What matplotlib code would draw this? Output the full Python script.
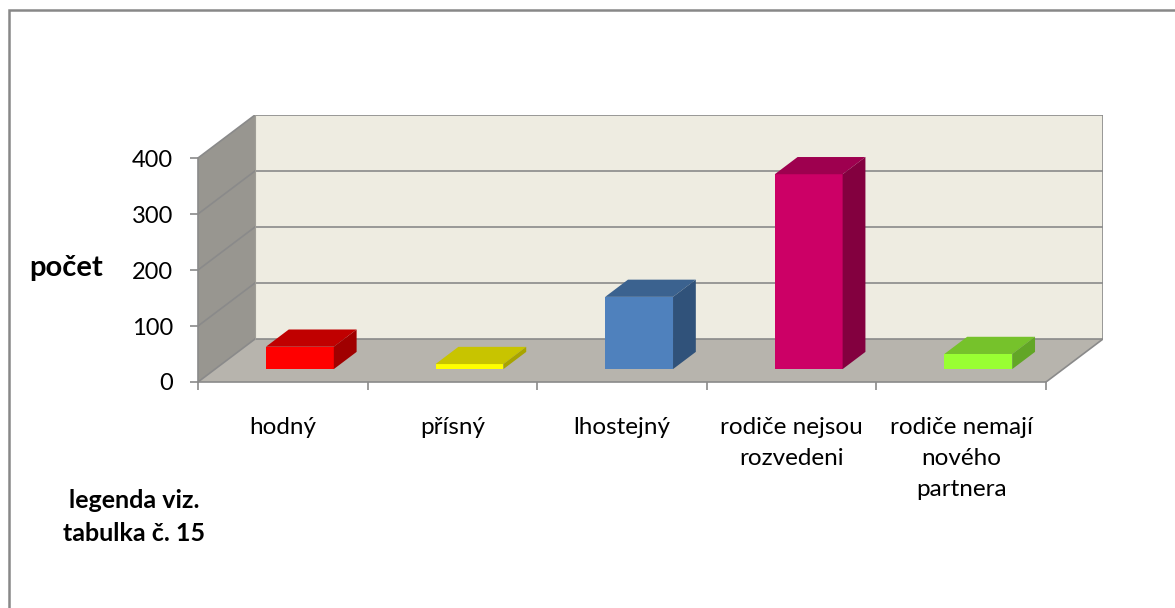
import numpy as np
import matplotlib
matplotlib.use("Agg")
import matplotlib.pyplot as plt
from matplotlib.patches import Polygon, Rectangle

plt.rcParams['font.family'] = ['Lato', 'DejaVu Sans']

# data
categories = ['hodný', 'přísný', 'lhostejný', 'rodiče nejsou\nrozvedeni',
              'rodiče nemají\nnového\npartnera']
values = [40, 9, 129, 348, 27]
yticks = [0, 100, 200, 300, 400]
front_colors = ['#FF0000', '#FFFF00', '#4F81BD', '#CC0066', '#99FF33']
top_colors = ['#C00000', '#C8C400', '#3B628F', '#9E004F', '#76C22B']
side_colors = ['#A00000', '#A8A400', '#30527A', '#83003F', '#62A626']

# fake 3d depth (in data units)
dx = 0.336
dy = 76.8
z0, z1 = 0.3, 0.7
bw = 0.4
ymax = 400
line_col = '#8A8A8A'

W, H = 1175, 608
fig = plt.figure(figsize=(W / 100, H / 100), dpi=100)
ax = fig.add_axes([198 / W, (H - 382) / H, 905 / W, 267 / H])
ax.set_xlim(-0.5, 4.5 + dx)
ax.set_ylim(0, ymax + dy)
n = len(values)
x = np.arange(n)

# walls and floor
x0, x1 = -0.5, n - 0.5
ax.add_patch(Polygon([(x0 + dx, dy), (x1 + dx, dy), (x1 + dx, ymax + dy), (x0 + dx, ymax + dy)],
                     closed=True, fc='#EEECE1', ec='none', zorder=0))
ax.add_patch(Polygon([(x0, 0), (x0 + dx, dy), (x0 + dx, ymax + dy), (x0, ymax)],
                     closed=True, fc='#989690', ec='none', zorder=0))
ax.add_patch(Polygon([(x0, 0), (x1, 0), (x1 + dx, dy), (x0 + dx, dy)],
                     closed=True, fc='#B7B4AD', ec='none', zorder=0))

# gridlines on back and side wall
for v in yticks:
    ax.plot([x0 + dx, x1 + dx], [v + dy, v + dy], color=line_col, lw=1.2, zorder=1)
    ax.plot([x0, x0 + dx], [v, v + dy], color=line_col, lw=1.2, zorder=1)
ax.plot([x1 + dx, x1 + dx], [dy, ymax + dy], color=line_col, lw=1.2, zorder=1)
ax.plot([x1, x1 + dx], [0, dy], color=line_col, lw=1.2, zorder=1)
ax.plot([x0 + dx, x0 + dx], [dy, ymax + dy], color='#A09E97', lw=0.8, zorder=1)

# bars: front face via bar, top and side faces as polygons
xs = x + z0 * dx
ax.bar(xs, values, width=bw, bottom=z0 * dy, color=front_colors, lw=0, zorder=3)
for i, v in enumerate(values):
    l, r = xs[i] - bw / 2, xs[i] + bw / 2
    b = z0 * dy
    d_x, d_y = (z1 - z0) * dx, (z1 - z0) * dy
    ax.add_patch(Polygon([(l, b + v), (r, b + v), (r + d_x, b + v + d_y), (l + d_x, b + v + d_y)],
                         closed=True, fc=top_colors[i], ec='none', zorder=3))
    ax.add_patch(Polygon([(r, b), (r + d_x, b + d_y), (r + d_x, b + v + d_y), (r, b + v)],
                         closed=True, fc=side_colors[i], ec='none', zorder=3))

# axes
for s in ['top', 'right']:
    ax.spines[s].set_visible(False)
for s in ['left', 'bottom']:
    ax.spines[s].set_color(line_col)
    ax.spines[s].set_linewidth(1.2)
    ax.spines[s].set_zorder(2)
ax.spines['left'].set_bounds(0, ymax)
ax.spines['bottom'].set_bounds(x0, x1)
ax.set_yticks(yticks)
ax.set_yticklabels([str(t) for t in yticks])
ax.set_xticks(np.arange(n + 1) - 0.5)
ax.set_xticklabels([''] * (n + 1))
ax.set_xticks(x, minor=True)
ax.set_xticklabels(categories, minor=True)
ax.tick_params(which='major', direction='out', length=6, width=1.2, color=line_col)
ax.tick_params(axis='y', labelsize=17, pad=12)
ax.tick_params(axis='x', which='minor', length=0, labelsize=17.5, pad=25)
for t in ax.get_xticklabels(minor=True):
    t.set_linespacing(1.6)
ax.patch.set_visible(False)

fig.text(66 / W, 1 - 268 / H, 'počet', ha='center', va='center', fontsize=21, fontweight='bold')
fig.text(134 / W, 1 - 517 / H, 'legenda viz.\ntabulka č. 15', ha='center', va='center',
         fontsize=18, fontweight='bold', linespacing=1.5)

# outer border
fig.add_artist(Rectangle((8.5 / W, -0.1), 1.2, 1.1 - 10.5 / H, transform=fig.transFigure,
                         fill=False, ec='#888888', lw=1.8))

fig.savefig('out.png', dpi=100)
